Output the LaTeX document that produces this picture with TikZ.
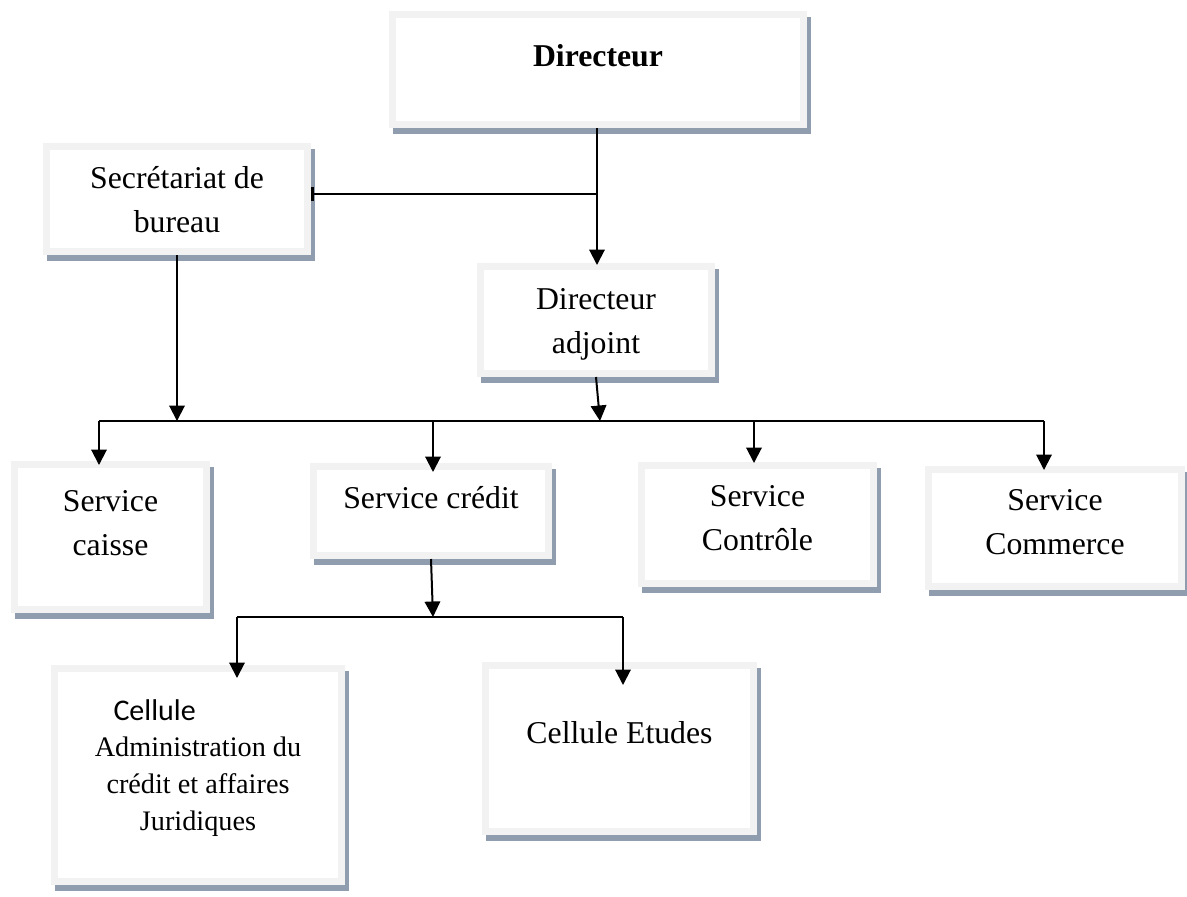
\documentclass[tikz,border=0pt]{standalone}
\usepackage{fontspec}
\setmainfont{Liberation Serif}
\newfontfamily\cellfont{Carlito}
\usepackage{tikz}
\usetikzlibrary{arrows.meta,backgrounds}
\definecolor{bordgris}{RGB}{242,242,242}
\definecolor{ombrebleu}{RGB}{143,157,175}

\begin{document}
\begin{tikzpicture}[x=0.4pt,y=-0.4pt]
        \tikzstyle{every node} = [rectangle]
        \tikzset{cadre/.style 2 args={draw=bordgris, line width=2.8pt, fill=white, inner sep=0pt,
                minimum width=#1*0.4pt-2.8pt, minimum height=#2*0.4pt-2.8pt}}
        \tikzstyle{txt} = [anchor=north, inner sep=0pt, align=center, font=\fontsize{12.7}{17.4}\selectfont]
        \tikzstyle{fleche} = [-{Triangle[length=6.2pt,width=6.2pt]}, line width=0.8pt]
        \tikzstyle{trait} = [line width=0.5pt]
        \useasboundingbox (0,0) rectangle (1187,896);

        % cadres
        \node[cadre={418}{117}] (dir) at (598,69.5) {};
        \node[cadre={268}{112}] (sec) at (177,199) {};
        \node[cadre={238}{114}] (adj) at (596,320) {};
        \node[cadre={199}{152}] (caisse) at (110.5,537) {};
        \node[cadre={242}{96}] (credit) at (431,511) {};
        \node[cadre={239}{125}] (ctrl) at (757.5,524.5) {};
        \node[cadre={260}{124}] (comm) at (1055,528) {};
        \node[cadre={294}{220}] (adm) at (198,775) {};
        \node[cadre={275}{173}] (etu) at (619.5,748.5) {};

        \begin{scope}[on background layer]
            \foreach \n in {dir,sec,adj,caisse,credit,ctrl,comm,adm,etu}
                \fill[ombrebleu] ([shift={(4,6)}]\n.south west) rectangle ([shift={(4,6)}]\n.north east);
        \end{scope}

        % textes
        \node[txt] (dir-t) at (598,43.5) {\textbf{Directeur}};
        \node[txt] (sec-t) at (177,166) {Secrétariat de\\bureau};
        \node[txt] (adj-t) at (596,288) {Directeur\\adjoint};
        \node[txt] (caisse-t) at (110.5,490) {Service\\caisse};
        \node[txt] (credit-t) at (431,486) {Service crédit};
        \node[txt] (ctrl-t) at (757.5,485) {Service\\Contrôle};
        \node[txt] (comm-t) at (1055,489) {Service\\Commerce};
        \node[anchor=base west, inner sep=0pt, font=\cellfont\fontsize{12}{14}\selectfont] (adm-t1) at (113,720) {Cellule};
        \node[txt, font=\fontsize{11.3}{14.8}\selectfont] (adm-t) at (198,736)
            {Administration du\\crédit et affaires\\Juridiques};
        \node[txt] (etu-t) at (619.5,721) {Cellule Etudes};

        % liaisons
        \coordinate (j) at (597,194);
        \draw[fleche] (j |- dir.south) -- ([shift={(0,2)}]j |- adj.north);
        \draw[line width=0.8pt, -{Bar[width=5.6pt,line width=1.2pt]}] (j) -- (j -| sec.east);

        \coordinate (b1) at (99,421);
        \coordinate (b2) at (1044,421);
        \coordinate (b3) at (600,421);
        \draw[trait] (b1) -- (b2);
        \draw[fleche] (sec.south) -- (sec.south |- b1);
        \draw[fleche] (adj.south) -- (b3);
        \foreach \n/\x/\d in {caisse/99/4, credit/433/9, ctrl/754/1, comm/1044/4}{
            \coordinate (t\n) at (\x,421);
            \draw[fleche] (t\n) -- ([shift={(0,\d)}]t\n |- \n.north);
        }

        \coordinate (c0) at (433,617);
        \coordinate (c1) at (237,617);
        \coordinate (c2) at (623,617);
        \draw[fleche] (credit.south) -- (c0);
        \draw[trait] (c1) -- (c2);
        \draw[fleche] (c1) -- ([shift={(0,13)}]c1 |- adm.north);
        \draw[fleche] (c2) -- ([shift={(0,23)}]c2 |- etu.north);
\end{tikzpicture}
\end{document}
